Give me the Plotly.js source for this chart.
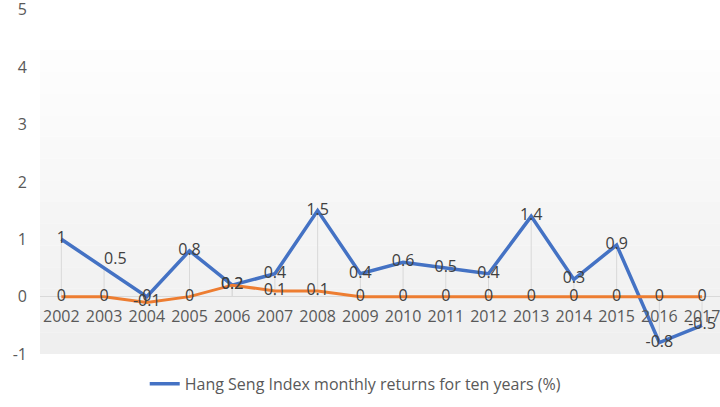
<!DOCTYPE html>
<html><head><meta charset="utf-8">
<script src="https://cdn.plot.ly/plotly-3.0.1.min.js"></script>
<style>html,body{margin:0;padding:0;background:#fff}#c{width:720px;height:407px}</style>
</head><body><div id="c"></div>
<script>
var years = ['2002','2003','2004','2005','2006','2007','2008','2009','2010','2011','2012','2013','2014','2015','2016','2017'];
var hangSeng = [1, 0.5, 0, 0.8, 0.2, 0.4, 1.5, 0.4, 0.6, 0.5, 0.4, 1.4, 0.3, 0.9, -0.8, -0.5];
var second = [0, 0, -0.1, 0, 0.2, 0.1, 0.1, 0, 0, 0, 0, 0, 0, 0, 0, 0];
var seriesName = 'Hang Seng Index monthly returns for ten years (%)';
var yTicks = [-1, 0, 1, 2, 3, 4, 5];
var yTickText = ['-1', '0', '1', '2', '3', '4', '5'];

var FONT = 'Open Sans, Noto Sans, sans-serif';
var yMin = -1, yMax = 5.05;
var dx = [], dy = [];
years.forEach(function(y, i){
  dx.push(y, y, null); dy.push(0, hangSeng[i], null);
  dx.push(y, y, null); dy.push(0, second[i], null);
});
var blueTextPos = hangSeng.map(function(v, i){ return i === 1 ? 'top right' : 'middle center'; });

var traces = [
  {x: dx, y: dy, mode: 'lines', line: {color: '#d9d9d9', width: 1}, showlegend: false, hoverinfo: 'skip'},
  {x: years, y: hangSeng, name: seriesName, mode: 'lines', line: {color: '#4472C4', width: 3.5}},
  {x: years, y: second, name: 'Series 2', mode: 'lines', line: {color: '#ED7D31', width: 3}, showlegend: false},
  {x: years, y: hangSeng, mode: 'text', text: hangSeng.map(String), textposition: blueTextPos,
   textfont: {family: FONT, size: 16, color: '#404040'}, showlegend: false, hoverinfo: 'skip'},
  {x: years, y: second, mode: 'text', text: second.map(String), textposition: 'middle center',
   textfont: {family: FONT, size: 16, color: '#404040'}, showlegend: false, hoverinfo: 'skip'}
];

var shapes = [];
var nb = 14, bgTop = 4.3, bgBot = -1;
for (var k = 0; k < nb; k++) {
  var g = Math.round(239 + (253 - 239) * k / (nb - 1));
  shapes.push({type: 'rect', layer: 'below', xref: 'paper', yref: 'y', x0: 0, x1: 1,
    y0: bgBot + (bgTop - bgBot) * k / nb, y1: bgBot + (bgTop - bgBot) * (k + 1) / nb,
    fillcolor: 'rgb(' + g + ',' + g + ',' + g + ')', line: {width: 0}});
}

var layout = {
  width: 720, height: 407,
  margin: {l: 40, r: 0, t: 7.1, b: 52.6},
  paper_bgcolor: '#ffffff', plot_bgcolor: 'rgba(0,0,0,0)',
  font: {family: FONT, size: 16, color: '#595959'},
  shapes: shapes,
  xaxis: {type: 'category', range: [-0.5, 15.42], anchor: 'free', position: (0 - yMin) / (yMax - yMin),
    showgrid: false, showline: false, zeroline: false, ticks: '', ticklabelstandoff: 8,
    ticklabeloverflow: 'allow', tickfont: {family: FONT, size: 16, color: '#595959'}},
  yaxis: {range: [yMin, yMax], tickvals: yTicks, ticktext: yTickText, showgrid: false, zeroline: true,
    zerolinecolor: '#d9d9d9', zerolinewidth: 1, showline: false, ticks: '',
    ticklabelstandoff: 12, ticklabeloverflow: 'allow', tickfont: {family: FONT, size: 16, color: '#595959'}},
  showlegend: true,
  legend: {orientation: 'h', x: 0.154, xanchor: 'left', y: -0.086, yanchor: 'middle',
    font: {family: FONT, size: 16, color: '#595959'}, bgcolor: 'rgba(0,0,0,0)'}
};
Plotly.newPlot('c', traces, layout, {displayModeBar: false, staticPlot: true});
</script></body></html>
